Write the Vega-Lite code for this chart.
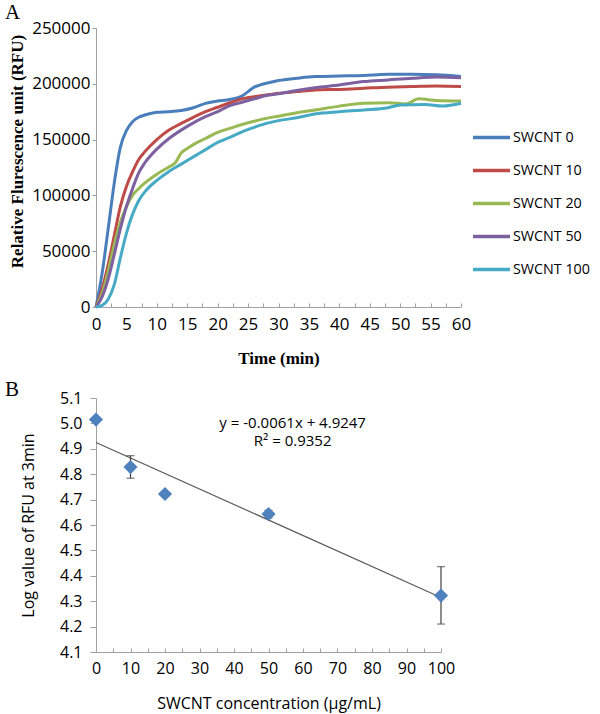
{
  "$schema": "https://vega.github.io/schema/vega-lite/v6.json",
  "background": "white",
  "padding": {"left": 5, "top": 2, "right": 0, "bottom": 6},
  "bounds": "flush",
  "spacing": 91,
  "config": {
    "view": {"stroke": null},
    "font": "Open Sans",
    "axis": {"grid": false, "domainColor": "#a0a0a0", "tickColor": "#a0a0a0", "labelColor": "black", "titleColor": "black", "labelFont": "Open Sans", "labelOverlap": false, "labelFlush": false}
  },
  "datasets": {
    "curves": [
      {"series": "SWCNT 0", "t": 0, "rfu": 0}, {"series": "SWCNT 0", "t": 1, "rfu": 30000}, {"series": "SWCNT 0", "t": 2, "rfu": 70000}, {"series": "SWCNT 0", "t": 3, "rfu": 111000}, {"series": "SWCNT 0", "t": 4, "rfu": 143000}, {"series": "SWCNT 0", "t": 5, "rfu": 158000}, {"series": "SWCNT 0", "t": 6, "rfu": 166000}, {"series": "SWCNT 0", "t": 7, "rfu": 170000}, {"series": "SWCNT 0", "t": 8, "rfu": 172000}, {"series": "SWCNT 0", "t": 10, "rfu": 174500}, {"series": "SWCNT 0", "t": 12, "rfu": 175000}, {"series": "SWCNT 0", "t": 14, "rfu": 176000}, {"series": "SWCNT 0", "t": 16, "rfu": 178500}, {"series": "SWCNT 0", "t": 18, "rfu": 182500}, {"series": "SWCNT 0", "t": 20, "rfu": 184500}, {"series": "SWCNT 0", "t": 22, "rfu": 186000}, {"series": "SWCNT 0", "t": 24, "rfu": 189000}, {"series": "SWCNT 0", "t": 25, "rfu": 193000}, {"series": "SWCNT 0", "t": 26, "rfu": 197000}, {"series": "SWCNT 0", "t": 27, "rfu": 199000}, {"series": "SWCNT 0", "t": 28, "rfu": 200500}, {"series": "SWCNT 0", "t": 30, "rfu": 203000}, {"series": "SWCNT 0", "t": 33, "rfu": 205000}, {"series": "SWCNT 0", "t": 36, "rfu": 206500}, {"series": "SWCNT 0", "t": 40, "rfu": 207000}, {"series": "SWCNT 0", "t": 44, "rfu": 207500}, {"series": "SWCNT 0", "t": 48, "rfu": 208500}, {"series": "SWCNT 0", "t": 52, "rfu": 208500}, {"series": "SWCNT 0", "t": 56, "rfu": 208000}, {"series": "SWCNT 0", "t": 60, "rfu": 206500},
      {"series": "SWCNT 10", "t": 0, "rfu": 0}, {"series": "SWCNT 10", "t": 1, "rfu": 16000}, {"series": "SWCNT 10", "t": 2, "rfu": 38000}, {"series": "SWCNT 10", "t": 3, "rfu": 64000}, {"series": "SWCNT 10", "t": 4, "rfu": 90000}, {"series": "SWCNT 10", "t": 5, "rfu": 108000}, {"series": "SWCNT 10", "t": 6, "rfu": 121000}, {"series": "SWCNT 10", "t": 7, "rfu": 132000}, {"series": "SWCNT 10", "t": 8, "rfu": 139000}, {"series": "SWCNT 10", "t": 10, "rfu": 150000}, {"series": "SWCNT 10", "t": 12, "rfu": 158500}, {"series": "SWCNT 10", "t": 14, "rfu": 164500}, {"series": "SWCNT 10", "t": 16, "rfu": 170000}, {"series": "SWCNT 10", "t": 18, "rfu": 175000}, {"series": "SWCNT 10", "t": 20, "rfu": 179000}, {"series": "SWCNT 10", "t": 22, "rfu": 183000}, {"series": "SWCNT 10", "t": 24, "rfu": 186500}, {"series": "SWCNT 10", "t": 26, "rfu": 188500}, {"series": "SWCNT 10", "t": 28, "rfu": 190000}, {"series": "SWCNT 10", "t": 30, "rfu": 191500}, {"series": "SWCNT 10", "t": 33, "rfu": 193000}, {"series": "SWCNT 10", "t": 36, "rfu": 194500}, {"series": "SWCNT 10", "t": 40, "rfu": 195000}, {"series": "SWCNT 10", "t": 44, "rfu": 196000}, {"series": "SWCNT 10", "t": 48, "rfu": 197000}, {"series": "SWCNT 10", "t": 52, "rfu": 197500}, {"series": "SWCNT 10", "t": 56, "rfu": 198000}, {"series": "SWCNT 10", "t": 60, "rfu": 197500},
      {"series": "SWCNT 20", "t": 0, "rfu": 0}, {"series": "SWCNT 20", "t": 1, "rfu": 12000}, {"series": "SWCNT 20", "t": 2, "rfu": 32000}, {"series": "SWCNT 20", "t": 3, "rfu": 56000}, {"series": "SWCNT 20", "t": 4, "rfu": 76000}, {"series": "SWCNT 20", "t": 5, "rfu": 90000}, {"series": "SWCNT 20", "t": 6, "rfu": 100000}, {"series": "SWCNT 20", "t": 7, "rfu": 106000}, {"series": "SWCNT 20", "t": 8, "rfu": 111000}, {"series": "SWCNT 20", "t": 10, "rfu": 119000}, {"series": "SWCNT 20", "t": 12, "rfu": 125500}, {"series": "SWCNT 20", "t": 13, "rfu": 129000}, {"series": "SWCNT 20", "t": 14, "rfu": 138000}, {"series": "SWCNT 20", "t": 15, "rfu": 142000}, {"series": "SWCNT 20", "t": 16, "rfu": 145500}, {"series": "SWCNT 20", "t": 18, "rfu": 151000}, {"series": "SWCNT 20", "t": 20, "rfu": 156500}, {"series": "SWCNT 20", "t": 22, "rfu": 160000}, {"series": "SWCNT 20", "t": 24, "rfu": 163500}, {"series": "SWCNT 20", "t": 26, "rfu": 166500}, {"series": "SWCNT 20", "t": 28, "rfu": 169000}, {"series": "SWCNT 20", "t": 30, "rfu": 171000}, {"series": "SWCNT 20", "t": 33, "rfu": 174000}, {"series": "SWCNT 20", "t": 36, "rfu": 176500}, {"series": "SWCNT 20", "t": 40, "rfu": 180000}, {"series": "SWCNT 20", "t": 44, "rfu": 182500}, {"series": "SWCNT 20", "t": 48, "rfu": 183000}, {"series": "SWCNT 20", "t": 51, "rfu": 182000}, {"series": "SWCNT 20", "t": 53, "rfu": 186500}, {"series": "SWCNT 20", "t": 56, "rfu": 185000}, {"series": "SWCNT 20", "t": 60, "rfu": 184500},
      {"series": "SWCNT 50", "t": 0, "rfu": 0}, {"series": "SWCNT 50", "t": 1, "rfu": 9000}, {"series": "SWCNT 50", "t": 2, "rfu": 25000}, {"series": "SWCNT 50", "t": 3, "rfu": 47000}, {"series": "SWCNT 50", "t": 4, "rfu": 70000}, {"series": "SWCNT 50", "t": 5, "rfu": 90000}, {"series": "SWCNT 50", "t": 6, "rfu": 106000}, {"series": "SWCNT 50", "t": 7, "rfu": 120000}, {"series": "SWCNT 50", "t": 8, "rfu": 129000}, {"series": "SWCNT 50", "t": 10, "rfu": 141500}, {"series": "SWCNT 50", "t": 12, "rfu": 151000}, {"series": "SWCNT 50", "t": 14, "rfu": 158500}, {"series": "SWCNT 50", "t": 16, "rfu": 165000}, {"series": "SWCNT 50", "t": 18, "rfu": 170500}, {"series": "SWCNT 50", "t": 20, "rfu": 175000}, {"series": "SWCNT 50", "t": 22, "rfu": 180500}, {"series": "SWCNT 50", "t": 24, "rfu": 183500}, {"series": "SWCNT 50", "t": 26, "rfu": 186500}, {"series": "SWCNT 50", "t": 28, "rfu": 189500}, {"series": "SWCNT 50", "t": 30, "rfu": 191000}, {"series": "SWCNT 50", "t": 33, "rfu": 194000}, {"series": "SWCNT 50", "t": 36, "rfu": 196500}, {"series": "SWCNT 50", "t": 40, "rfu": 199000}, {"series": "SWCNT 50", "t": 44, "rfu": 202000}, {"series": "SWCNT 50", "t": 48, "rfu": 203500}, {"series": "SWCNT 50", "t": 52, "rfu": 205000}, {"series": "SWCNT 50", "t": 56, "rfu": 206000}, {"series": "SWCNT 50", "t": 60, "rfu": 205500},
      {"series": "SWCNT 100", "t": 0, "rfu": 0}, {"series": "SWCNT 100", "t": 1, "rfu": 1500}, {"series": "SWCNT 100", "t": 2, "rfu": 7000}, {"series": "SWCNT 100", "t": 3, "rfu": 20000}, {"series": "SWCNT 100", "t": 4, "rfu": 44000}, {"series": "SWCNT 100", "t": 5, "rfu": 66000}, {"series": "SWCNT 100", "t": 6, "rfu": 83000}, {"series": "SWCNT 100", "t": 7, "rfu": 95000}, {"series": "SWCNT 100", "t": 8, "rfu": 103000}, {"series": "SWCNT 100", "t": 10, "rfu": 113500}, {"series": "SWCNT 100", "t": 12, "rfu": 121500}, {"series": "SWCNT 100", "t": 14, "rfu": 128000}, {"series": "SWCNT 100", "t": 16, "rfu": 134500}, {"series": "SWCNT 100", "t": 18, "rfu": 141000}, {"series": "SWCNT 100", "t": 20, "rfu": 147500}, {"series": "SWCNT 100", "t": 22, "rfu": 152000}, {"series": "SWCNT 100", "t": 24, "rfu": 157000}, {"series": "SWCNT 100", "t": 26, "rfu": 161000}, {"series": "SWCNT 100", "t": 28, "rfu": 164500}, {"series": "SWCNT 100", "t": 30, "rfu": 167000}, {"series": "SWCNT 100", "t": 33, "rfu": 169500}, {"series": "SWCNT 100", "t": 36, "rfu": 173000}, {"series": "SWCNT 100", "t": 40, "rfu": 175000}, {"series": "SWCNT 100", "t": 44, "rfu": 176500}, {"series": "SWCNT 100", "t": 48, "rfu": 178500}, {"series": "SWCNT 100", "t": 50, "rfu": 181000}, {"series": "SWCNT 100", "t": 54, "rfu": 181500}, {"series": "SWCNT 100", "t": 57, "rfu": 180000}, {"series": "SWCNT 100", "t": 60, "rfu": 182500}
    ],
    "points": [
      {"conc": 0, "logrfu": 5.015},
      {"conc": 10, "logrfu": 4.828},
      {"conc": 20, "logrfu": 4.722},
      {"conc": 50, "logrfu": 4.643},
      {"conc": 100, "logrfu": 4.322}
    ],
    "errors": [
      {"conc": 10, "logrfu": 4.784, "hi": 4.873},
      {"conc": 50, "logrfu": 4.628, "hi": 4.658},
      {"conc": 100, "logrfu": 4.21, "hi": 4.436}
    ],
    "trend": [
      {"conc": 0, "logrfu": 4.9247},
      {"conc": 100, "logrfu": 4.3147}
    ],
    "equation": [
      {"conc": 57, "logrfu": 5.003, "label": "y = -0.0061x + 4.9247"},
      {"conc": 57, "logrfu": 4.929, "label": "R² = 0.9352"}
    ]
  },
  "vconcat": [
    {
      "width": 365,
      "height": 279,
      "title": {"text": "A", "anchor": "start", "frame": "group", "dx": -91, "font": "Liberation Serif", "fontSize": 21, "fontWeight": "normal", "baseline": "alphabetic", "offset": -21, "color": "black"},
      "data": {"name": "curves"},
      "mark": {"type": "line", "strokeWidth": 3, "interpolate": "monotone"},
      "encoding": {
        "x": {
          "field": "t", "type": "quantitative",
          "scale": {"domain": [0, 60], "nice": false, "zero": false},
          "axis": {
            "values": [0, 2.5, 5, 7.5, 10, 12.5, 15, 17.5, 20, 22.5, 25, 27.5, 30, 32.5, 35, 37.5, 40, 42.5, 45, 47.5, 50, 52.5, 55, 57.5, 60],
            "labelExpr": "datum.value % 5 === 0 ? datum.label : ''",
            "tickSize": -4, "labelPadding": 13, "labelFontSize": 17,
            "title": "Time (min)", "titleFont": "Liberation Serif", "titleFontWeight": "bold", "titleFontSize": 17,
            "titleY": 51, "titleBaseline": "middle"
          }
        },
        "y": {
          "field": "rfu", "type": "quantitative",
          "scale": {"domain": [0, 250000], "nice": false},
          "axis": {
            "values": [0, 50000, 100000, 150000, 200000, 250000], "format": "d",
            "tickSize": 4, "labelPadding": 2, "labelFontSize": 17,
            "title": "Relative Flurescence unit (RFU)", "titleFont": "Liberation Serif", "titleFontWeight": "bold", "titleFontSize": 17,
            "titleX": -79, "titleY": 123, "titleBaseline": "middle", "titleAngle": -90, "titleAlign": "center"
          }
        },
        "color": {
          "field": "series", "type": "nominal",
          "scale": {"domain": ["SWCNT 0", "SWCNT 10", "SWCNT 20", "SWCNT 50", "SWCNT 100"], "range": ["#4A7EBB", "#BE4B48", "#98B954", "#7D60A0", "#46AAC5"]},
          "legend": {
            "title": null, "orient": "none", "legendX": 375, "legendY": 89,
            "symbolType": "stroke", "symbolSize": 1369, "symbolStrokeWidth": 3.5,
            "labelFontSize": 14.3, "labelFont": "Open Sans", "labelColor": "black", "labelOffset": 1, "rowPadding": 5
          }
        }
      }
    },
    {
      "width": 345,
      "height": 254,
      "title": {"text": "B", "anchor": "start", "frame": "group", "dx": -91, "font": "Liberation Serif", "fontSize": 21, "fontWeight": "normal", "baseline": "alphabetic", "offset": -27, "color": "black"},
      "encoding": {
        "x": {
          "field": "conc", "type": "quantitative",
          "scale": {"domain": [0, 100], "nice": false},
          "axis": {
            "values": [0, 5, 10, 15, 20, 25, 30, 35, 40, 45, 50, 55, 60, 65, 70, 75, 80, 85, 90, 95, 100],
            "labelExpr": "datum.value % 10 === 0 ? datum.label : ''",
            "tickSize": -4, "labelPadding": 12, "labelFontSize": 16,
            "title": "SWCNT concentration (μg/mL)", "titleFont": "Open Sans", "titleFontWeight": "normal", "titleFontSize": 16,
            "titleY": 51, "titleBaseline": "middle"
          }
        },
        "y": {
          "field": "logrfu", "type": "quantitative",
          "scale": {"domain": [4.1, 5.1], "nice": false, "zero": false},
          "axis": {
            "values": [4.1, 4.2, 4.3, 4.4, 4.5, 4.6, 4.7, 4.8, 4.9, 5.0, 5.1], "format": ".1f",
            "tickSize": 6, "labelPadding": 8, "labelFontSize": 16,
            "title": "Log value of RFU at 3min", "titleFont": "Open Sans", "titleFontWeight": "normal", "titleFontSize": 16,
            "titleX": -68, "titleY": 127, "titleBaseline": "middle", "titleAngle": -90, "titleAlign": "center"
          }
        }
      },
      "layer": [
        {
          "data": {"name": "trend"},
          "mark": {"type": "line", "color": "#5a5a5a", "strokeWidth": 1.2}
        },
        {
          "data": {"name": "errors"},
          "mark": {"type": "errorbar", "ticks": {"size": 8}, "color": "#404040", "thickness": 1.2},
          "encoding": {
            "y2": {"field": "hi"}
          }
        },
        {
          "data": {"name": "points"},
          "mark": {"type": "point", "shape": "diamond", "filled": true, "size": 200, "color": "#4F81BD", "opacity": 1}
        },
        {
          "data": {"name": "equation"},
          "mark": {"type": "text", "fontSize": 15, "font": "Open Sans", "color": "black", "align": "center", "baseline": "middle"},
          "encoding": {
            "text": {"field": "label"}
          }
        }
      ]
    }
  ]
}
